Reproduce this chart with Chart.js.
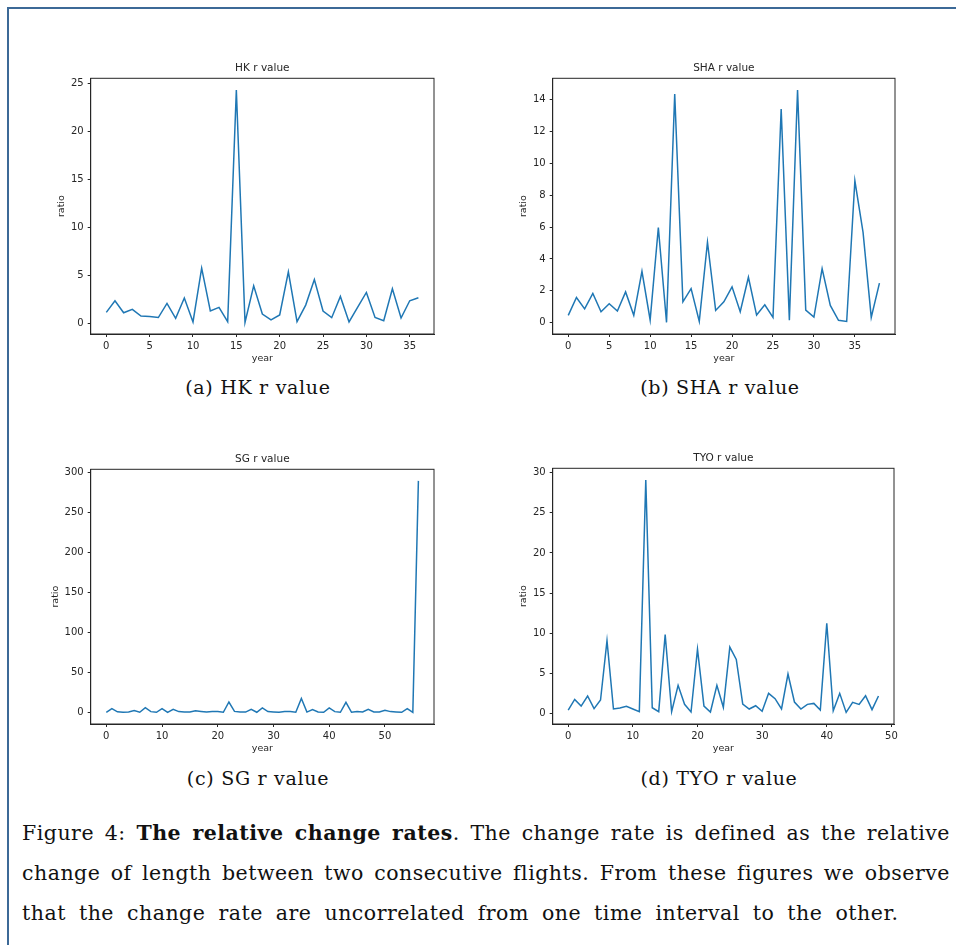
<!DOCTYPE html>
<html>
<head>
<meta charset="utf-8">
<script src="https://cdn.jsdelivr.net/npm/chart.js"></script>
<style>
  body { margin: 0; background: #fff; }
  #page { position: relative; width: 956px; height: 945px; overflow: hidden; background: #fff; }
  #frame { position: absolute; left: 7px; top: 7px; right: -10px; bottom: -10px;
           border-left: 2px solid #3c6997; border-top: 2px solid #3c6997; }
  .box { position: absolute; }
  .sub { position: absolute; width: 300px; text-align: center; font-family: "DejaVu Serif", serif;
         font-size: 19px; letter-spacing: 0.7px; color: #111; }
  #caption { position: absolute; left: 22px; top: 813px; width: 928px; font-family: "DejaVu Serif", serif;
             font-size: 20.5px; line-height: 40px; color: #111; }
  #caption div { text-align: justify; text-align-last: justify; white-space: nowrap; letter-spacing: 0.5px; }
  #caption div.last { text-align-last: left; word-spacing: 6px; }
</style>
</head>
<body>
<div id="page">
  <div id="frame"></div>
  <div class="box" id="b0"><canvas id="c0"></canvas></div>
  <div class="box" id="b1"><canvas id="c1"></canvas></div>
  <div class="box" id="b2"><canvas id="c2"></canvas></div>
  <div class="box" id="b3"><canvas id="c3"></canvas></div>
  <div class="sub" style="left:108px; top:376px;">(a) HK r value</div>
  <div class="sub" style="left:570px; top:376px;">(b) SHA r value</div>
  <div class="sub" style="left:108px; top:767px;">(c) SG r value</div>
  <div class="sub" style="left:569px; top:767px;">(d) TYO r value</div>
  <div id="caption">
    <div>Figure 4: <b>The relative change rates</b>. The change rate is defined as the relative</div>
    <div>change of length between two consecutive flights. From these figures we observe</div>
    <div class="last">that the change rate are uncorrelated from one time interval to the other.</div>
  </div>
</div>
<script>
// r values (x = index 0..n-1)
const hkValues = [1.14, 2.35, 1.1, 1.45, 0.76, 0.7, 0.6, 2.08, 0.52, 2.63,
  0.14, 5.75, 1.3, 1.66, 0.17, 24.3, 0.1, 3.9, 0.97, 0.35,
  0.87, 5.37, 0.17, 1.9, 4.57, 1.28, 0.59, 2.8, 0.14, 1.7,
  3.22, 0.62, 0.28, 3.6, 0.55, 2.35, 2.67];
const shaValues = [0.46, 1.58, 0.87, 1.83, 0.69, 1.19, 0.73, 1.93, 0.46, 3.22,
  0.17, 5.97, 0.02, 14.35, 1.31, 2.14, 0.08, 5.05, 0.77, 1.31,
  2.25, 0.69, 2.85, 0.48, 1.12, 0.33, 13.4, 0.15, 14.6, 0.79,
  0.35, 3.39, 1.08, 0.15, 0.08, 8.9, 5.66, 0.33, 2.48];
const sgValues = [0.4, 5, 1, 0.5, 0.8, 2.5, 0.4, 6.2, 1.2, 0.4,
  5, 0.2, 4, 1.2, 0.8, 0.8, 2.3, 1.5, 0.8, 1.2,
  1.4, 0.4, 13.2, 1.5, 0.8, 0.6, 4, 0.4, 5.8, 1.2,
  0.8, 0.5, 1.2, 1.2, 0.4, 17.7, 0.6, 3.7, 0.8, 0.4,
  5.8, 1.2, 0.4, 12.8, 0.4, 1.2, 0.8, 4, 0.8, 0.8,
  2.9, 1.2, 0.8, 0.4, 5, 0.2, 289];
const tyoValues = [0.41, 1.74, 0.91, 2.16, 0.58, 1.66, 9.05, 0.54, 0.66, 0.87,
  0.54, 0.21, 29.1, 0.7, 0.21, 9.83, 0.21, 3.49, 1.12, 0.17,
  8.0, 0.91, 0.17, 3.49, 0.75, 8.26, 6.72, 1.16, 0.54, 0.95,
  0.25, 2.49, 1.83, 0.54, 4.9, 1.41, 0.54, 1.12, 1.24, 0.41,
  11.24, 0.33, 2.49, 0.12, 1.37, 1.12, 2.2, 0.46, 2.16];

const hkXTicks = [0, 5, 10, 15, 20, 25, 30, 35];
const hkYTicks = [0, 5, 10, 15, 20, 25];
const shaXTicks = [0, 5, 10, 15, 20, 25, 30, 35];
const shaYTicks = [0, 2, 4, 6, 8, 10, 12, 14];
const sgXTicks = [0, 10, 20, 30, 40, 50];
const sgYTicks = [0, 50, 100, 150, 200, 250, 300];
const tyoXTicks = [0, 10, 20, 30, 40, 50];
const tyoYTicks = [0, 5, 10, 15, 20, 25, 30];

const ink = '#262626';
const XH = 30, TH = 18.3, RP = 12;

const frame = {
  id: 'frame',
  afterDraw(chart) {
    const a = chart.chartArea, c = chart.ctx;
    c.save();
    c.strokeStyle = ink;
    c.lineWidth = 1;
    c.strokeRect(a.left, a.top, a.right - a.left, a.bottom - a.top);
    c.restore();
  }
};

function panel(idx, title, values, xTicks, yTicks, area) {
  const n = values.length;
  const lo = Math.min(...values), hi = Math.max(...values);
  const ym = (hi - lo) * 0.05, xm = (n - 1) * 0.05;
  const YW = area.yw;
  const w = (area.r - area.l) + YW + RP;
  const h = (area.b - area.t) + TH + XH;
  const box = document.getElementById('b' + idx);
  box.style.left = (area.l - YW) + 'px';
  box.style.top = (area.t - TH) + 'px';
  const cv = document.getElementById('c' + idx);
  cv.width = w; cv.height = h;
  cv.style.width = w + 'px'; cv.style.height = h + 'px';

  const axisCommon = {
    grid: { display: true, drawOnChartArea: false, drawTicks: true, tickLength: 3, color: ink },
    border: { display: true, color: ink, width: 1 },
  };
  new Chart(cv, {
    type: 'line',
    data: {
      datasets: [{
        data: values.map((v, i) => ({ x: i, y: v })),
        borderColor: '#1f77b4',
        borderWidth: 1.5,
        pointRadius: 0,
        tension: 0,
        fill: false
      }]
    },
    options: {
      responsive: false,
      animation: false,
      devicePixelRatio: 1,
      layout: { padding: { left: 0, right: RP, top: 0, bottom: 0 } },
      plugins: {
        legend: { display: false },
        tooltip: { enabled: false },
        title: {
          display: true, text: title, color: ink, fullSize: false,
          font: { family: 'DejaVu Sans', size: 10.5, weight: 'normal' },
          padding: { top: 1.5, bottom: TH - 1.5 - 12.6 }
        }
      },
      scales: {
        x: Object.assign({
          type: 'linear', min: -xm, max: (n - 1) + xm,
          afterBuildTicks: s => { s.ticks = xTicks.map(v => ({ value: v })); },
          afterFit: s => { s.height = XH; },
          ticks: { color: ink, padding: 3, maxRotation: 0, font: { family: 'DejaVu Sans', size: 10 } },
          title: { display: true, text: 'year', color: ink, padding: { top: 0, bottom: 0 },
                   font: { family: 'DejaVu Sans', size: 9.5 } }
        }, axisCommon),
        y: Object.assign({
          type: 'linear', min: lo - ym, max: hi + ym,
          afterBuildTicks: s => { s.ticks = yTicks.map(v => ({ value: v })); },
          afterFit: s => { s.width = YW; },
          ticks: { color: ink, padding: 4, font: { family: 'DejaVu Sans', size: 10 } },
          title: { display: true, text: 'ratio', color: ink, padding: { top: 6, bottom: 0 },
                   font: { family: 'DejaVu Sans', size: 9.5 } }
        }, axisCommon)
      }
    },
    plugins: [frame]
  });
}

panel(0, 'HK r value', hkValues, hkXTicks, hkYTicks, { l: 90.7, r: 434, t: 78.3, b: 334, yw: 40.7 });
panel(1, 'SHA r value', shaValues, shaXTicks, shaYTicks, { l: 552.3, r: 895, t: 78.3, b: 334, yw: 40.7 });
panel(2, 'SG r value', sgValues, sgXTicks, sgYTicks, { l: 90.7, r: 434, t: 469, b: 724, yw: 46.7 });
panel(3, 'TYO r value', tyoValues, tyoXTicks, tyoYTicks, { l: 552.3, r: 894.3, t: 468.3, b: 724, yw: 40.7 });
</script>
</body>
</html>
